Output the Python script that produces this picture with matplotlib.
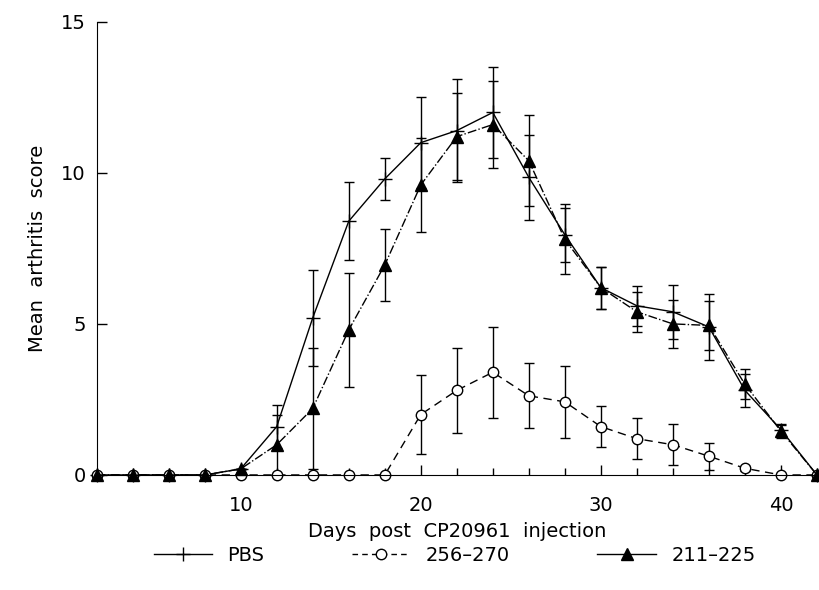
import matplotlib
matplotlib.use("Agg")
import matplotlib.pyplot as plt
from matplotlib.ticker import MultipleLocator
from matplotlib.lines import Line2D

plt.rcParams['font.family'] = ['DejaVu Sans']

days = [2, 4, 6, 8, 10, 12, 14, 16, 18, 20, 22, 24, 26, 28, 30, 32, 34, 36, 38, 40, 42]

pbs_mean = [0, 0, 0, 0, 0.2, 1.6, 5.2, 8.4, 9.8, 11.0, 11.4, 12.0, 9.85, 7.95, 6.2, 5.6, 5.4, 4.9, 2.8, 1.5, 0]
pbs_err = [0, 0, 0, 0, 0, 0.7, 1.6, 1.3, 0.7, 1.5, 1.7, 1.52, 1.4, 0.9, 0.7, 0.66, 0.9, 1.1, 0.55, 0.2, 0]

p256_mean = [0, 0, 0, 0, 0, 0, 0, 0, 0, 2.0, 2.8, 3.4, 2.62, 2.42, 1.6, 1.2, 1.0, 0.62, 0.22, 0, 0]
p256_err = [0, 0, 0, 0, 0, 0, 0, 0, 0, 1.3, 1.4, 1.5, 1.07, 1.2, 0.67, 0.68, 0.68, 0.45, 0.08, 0, 0]

p211_mean = [0, 0, 0, 0, 0.2, 1.0, 2.2, 4.8, 6.95, 9.6, 11.2, 11.6, 10.4, 7.8, 6.2, 5.4, 5.0, 4.95, 3.0, 1.45, 0]
p211_err = [0, 0, 0, 0, 0, 1.0, 2.0, 1.9, 1.2, 1.57, 1.43, 1.45, 1.5, 1.16, 0.7, 0.66, 0.8, 0.8, 0.5, 0.22, 0]

labels = ["PBS", "256\u2013270", "211\u2013225"]

fig = plt.figure(figsize=(8.19, 5.9), dpi=100)
ax = fig.add_axes([0.118, 0.195, 0.8795, 0.768])

common = dict(color='black', ecolor='black', elinewidth=1.0, capsize=3.5, capthick=1.0, lw=1.0, clip_on=False)

e1 = ax.errorbar(days, pbs_mean, yerr=pbs_err, fmt='-', marker='+', markersize=10, mew=1.0, **common)
e2 = ax.errorbar(days, p256_mean, yerr=p256_err, fmt='--', marker='o', markersize=7.5,
                 markerfacecolor='white', mew=1.0, dashes=(6, 4), **common)
e3 = ax.errorbar(days, p211_mean, yerr=p211_err, fmt='-.', marker='^', markersize=8,
                 markerfacecolor='black', mew=1.0, **common)
for e in (e1, e2, e3):
    for c in e[1]:
        c.set_clip_on(False)
    for b in e[2]:
        b.set_clip_on(False)

ax.set_xlim(2, 42)
ax.set_ylim(0, 15)
ax.spines['top'].set_visible(False)
ax.spines['right'].set_visible(False)
ax.xaxis.set_minor_locator(MultipleLocator(2))
ax.set_xticks([10, 20, 30, 40])
ax.set_yticks([0, 5, 10, 15])
ax.tick_params(axis='x', which='major', direction='in', length=7, width=1.0, labelsize=14, pad=15)
ax.tick_params(axis='y', which='major', direction='in', length=7, width=1.0, labelsize=14, pad=8)
ax.tick_params(axis='x', which='minor', direction='in', length=5, width=1.0)
ax.set_xlabel("Days  post  CP20961  injection", fontsize=14, labelpad=5)
ax.set_ylabel("Mean  arthritis  score", fontsize=14, labelpad=10)

h1 = Line2D([], [], color='black', lw=1.0, ls='-', marker='+', markersize=10, mew=1.0)
h2 = Line2D([], [], color='black', lw=1.0, ls='--', dashes=(4, 3), marker='o', markersize=7.5,
            markerfacecolor='white', mew=1.0)
h3 = Line2D([], [], color='black', lw=1.0, ls='-', marker='^', markersize=8, markerfacecolor='black')

fig.legend(handles=[h1, h2, h3], labels=labels, loc='center', bbox_to_anchor=(0.555, 0.059),
           ncol=3, frameon=False, fontsize=14, handlelength=3.0, columnspacing=4.5,
           handletextpad=0.8)

fig.savefig("out.png", dpi=100)
